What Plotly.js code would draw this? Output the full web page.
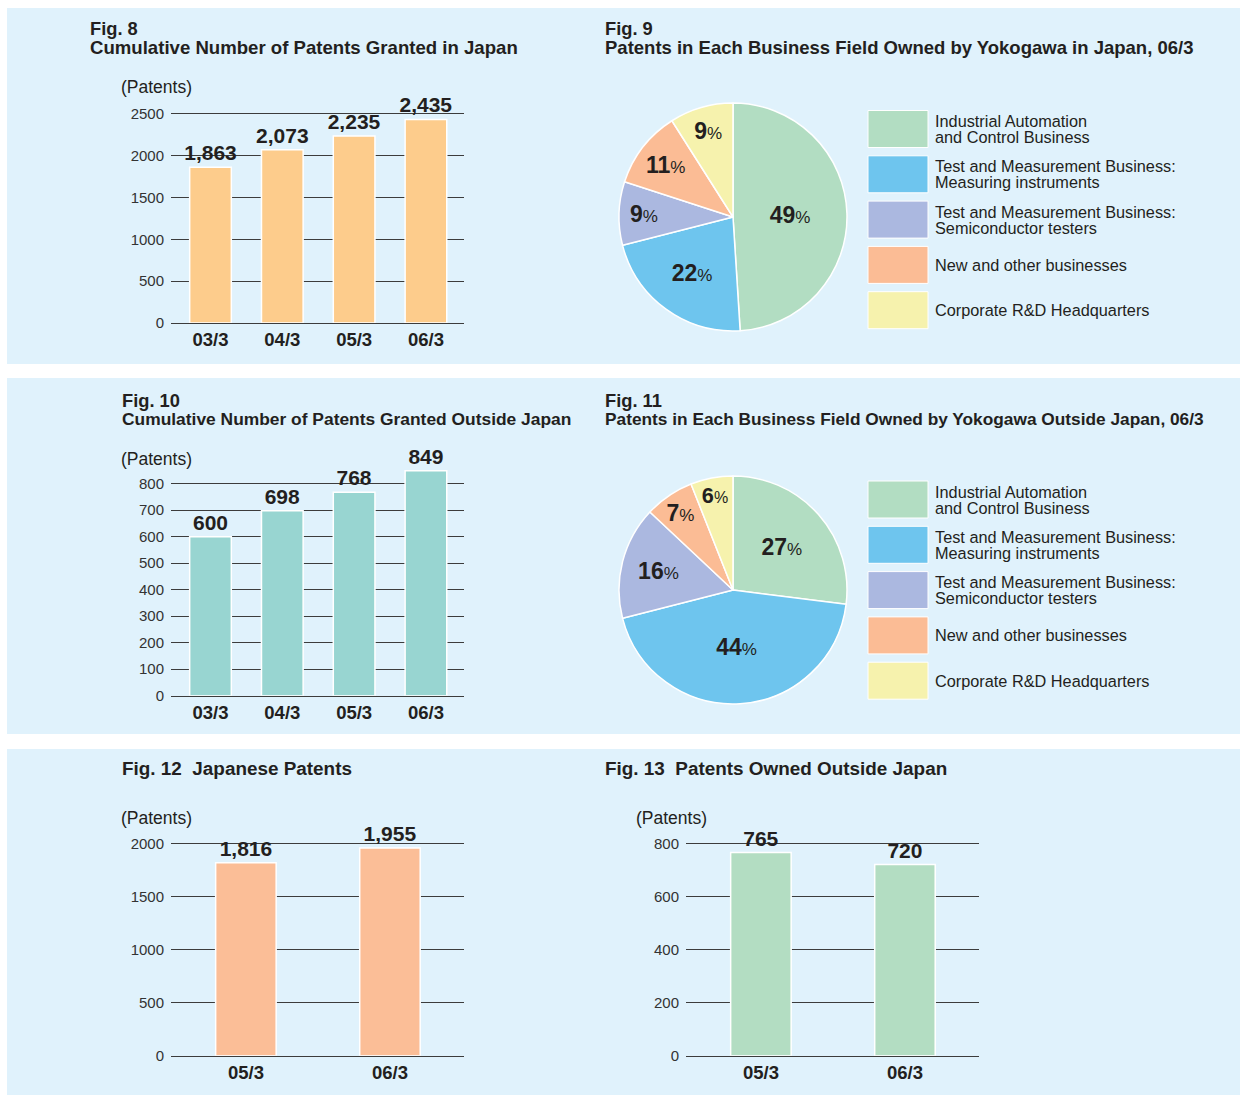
<!DOCTYPE html>
<html>
<head>
<meta charset="utf-8">
<script src="https://cdn.plot.ly/plotly-3.0.1.min.js"></script>
<style>html,body{margin:0;padding:0;background:#fff;}#chart{width:1242px;height:1095px;}</style>
</head>
<body>
<div id="chart"></div>
<script>
// ---- data ----
const years4 = ["03/3", "04/3", "05/3", "06/3"];
const years2 = ["05/3", "06/3"];
const japanCumulative = [1863, 2073, 2235, 2435];
const outsideCumulative = [600, 698, 768, 849];
const japanPatents = [1816, 1955];
const outsidePatents = [765, 720];
const categories = [
  "Industrial Automation<br>and Control Business",
  "Test and Measurement Business:<br>Measuring instruments",
  "Test and Measurement Business:<br>Semiconductor testers",
  "New and other businesses",
  "Corporate R&D Headquarters"
];
const shareJapan = [49, 22, 9, 11, 9];
const shareOutside = [27, 44, 16, 7, 6];
const yTicksFig8 = [0, 500, 1000, 1500, 2000, 2500];
const yTicksFig10 = [0, 100, 200, 300, 400, 500, 600, 700, 800];
const yTicksFig12 = [0, 500, 1000, 1500, 2000];
const yTicksFig13 = [0, 200, 400, 600, 800];

// ---- styles ----
const W = 1242, H = 1095;
const FONT = "Liberation Sans, Arial, Helvetica, sans-serif";
const TXT = "#231f20";
const PANEL = "#e0f2fc";
const GRID = "#3c3c3c";
const pieColors = ["#b2ddc2", "#6ec5ee", "#abb8e0", "#fbbc95", "#f6f2ad"];
const px = v => v / W;
const py = v => 1 - v / H;

function barTrace(x, y, color, width, xa, ya) {
  return {
    type: "bar", x: x, y: y, xaxis: xa, yaxis: ya, width: width,
    marker: {color: color, line: {color: "#ffffff", width: 1.5}},
    texttemplate: "%{y:,}", textposition: "outside", cliponaxis: false,
    constraintext: "none",
    textfont: {family: FONT, size: 21, color: TXT, weight: "bold"},
    hoverinfo: "skip", showlegend: false
  };
}
function pieTrace(values, dom) {
  return {
    type: "pie", values: values, labels: categories, sort: false,
    direction: "clockwise", rotation: 0,
    marker: {colors: pieColors, line: {color: "#ffffff", width: 1.5}},
    texttemplate: "<b>%{value}</b><span style='font-size:17px'>%</span>",
    textposition: "inside", insidetextorientation: "horizontal",
    textfont: {family: FONT, size: 23, color: TXT},
    domain: dom, hoverinfo: "skip", showlegend: false
  };
}

const data = [
  barTrace(years4, japanCumulative, "#fdcc8c", 0.58, "x", "y"),
  barTrace(years4, outsideCumulative, "#98d5d1", 0.58, "x2", "y2"),
  barTrace(years2, japanPatents, "#fbbe97", 0.42, "x3", "y3"),
  barTrace(years2, outsidePatents, "#b3ddc2", 0.42, "x4", "y4"),
  pieTrace(shareJapan, {x: [px(619), px(847)], y: [py(331), py(103)]}),
  pieTrace(shareOutside, {x: [px(619), px(847)], y: [py(704), py(476)]})
];

function xAxis(dom, range, anchor) {
  return {
    domain: dom, range: range, anchor: anchor, type: "category",
    showgrid: false, zeroline: false, showline: true, linecolor: GRID, linewidth: 1.2,
    ticks: "", ticklabelstandoff: 0,
    tickfont: {family: FONT, size: 18.5, color: TXT, weight: "bold"},
    fixedrange: true
  };
}
function yAxis(dom, range, tickvals, anchor) {
  return {
    domain: dom, range: range, anchor: anchor, tickvals: tickvals,
    showgrid: true, gridcolor: GRID, gridwidth: 1, zeroline: false, showline: false,
    ticks: "", ticklabelstandoff: 6,
    tickfont: {family: FONT, size: 15, color: "#333333"},
    fixedrange: true
  };
}

const layout = {
  width: W, height: H, margin: {l: 0, r: 0, t: 0, b: 0},
  paper_bgcolor: "#ffffff", plot_bgcolor: "rgba(0,0,0,0)",
  font: {family: FONT, color: TXT},
  showlegend: false,
  xaxis: xAxis([px(171), px(464)], [-0.55, 3.53], "y"),
  yaxis: yAxis([py(323), py(105.6)], [0, 2600], yTicksFig8, "x"),
  xaxis2: xAxis([px(171), px(464)], [-0.55, 3.53], "y2"),
  yaxis2: yAxis([py(695.7), py(462.5)], [0, 880], yTicksFig10, "x2"),
  xaxis3: xAxis([px(171), px(464)], [-0.52, 1.514], "y3"),
  yaxis3: yAxis([py(1055.7), py(832.7)], [0, 2100], yTicksFig12, "x3"),
  xaxis4: xAxis([px(686), px(979)], [-0.52, 1.514], "y4"),
  yaxis4: yAxis([py(1055.7), py(832.7)], [0, 840], yTicksFig13, "x4"),
  shapes: [],
  annotations: []
};

// panels
[[8, 364], [378, 734], [749, 1095]].forEach(p => {
  layout.shapes.push({type: "rect", xref: "paper", yref: "paper", layer: "below",
    x0: px(7), x1: px(1240), y0: py(p[1]), y1: py(p[0]), fillcolor: PANEL, line: {width: 0}});
});

function ann(x, y, text, size, bold, xanchor) {
  layout.annotations.push({xref: "paper", yref: "paper", x: px(x), y: py(y), text: text,
    showarrow: false, xanchor: xanchor || "left", yanchor: "middle", borderpad: 0,
    font: {family: FONT, size: size, color: TXT, weight: bold ? "bold" : "normal"}});
}
// titles
ann(89, 28, "Fig. 8", 18.3, true);
ann(89, 47, "Cumulative Number of Patents Granted in Japan", 18.6, true);
ann(604, 28, "Fig. 9", 18.3, true);
ann(604, 47, "Patents in Each Business Field Owned by Yokogawa in Japan, 06/3", 18.5, true);
ann(121, 400, "Fig. 10", 18.3, true);
ann(121, 419, "Cumulative Number of Patents Granted Outside Japan", 17.4, true);
ann(604, 400, "Fig. 11", 18.3, true);
ann(604, 419, "Patents in Each Business Field Owned by Yokogawa Outside Japan, 06/3", 17.3, true);
ann(121, 768, "Fig. 12\u00a0\u00a0Japanese Patents", 18.9, true);
ann(604, 768, "Fig. 13\u00a0\u00a0Patents Owned Outside Japan", 18.9, true);
// unit labels
ann(120, 87, "(Patents)", 17.5, false);
ann(120, 459, "(Patents)", 17.5, false);
ann(120, 818, "(Patents)", 17.5, false);
ann(635, 818, "(Patents)", 17.5, false);

// legends
function legend(top0) {
  categories.forEach((c, i) => {
    const t = top0 + i * 45.3;
    layout.shapes.push({type: "rect", xref: "paper", yref: "paper",
      x0: px(868), x1: px(928), y0: py(t + 37), y1: py(t), fillcolor: pieColors[i],
      line: {color: "#ffffff", width: 1}});
    const lines = c.split("<br>");
    const cy = t + 18.5;
    lines.forEach((ln, j) => {
      const y = cy + (j - (lines.length - 1) / 2) * 16;
      ann(934, y, ln, 16.3, false);
    });
  });
}
legend(110.5);
legend(481);

Plotly.newPlot("chart", data, layout, {displayModeBar: false, staticPlot: true});
</script>
</body>
</html>
